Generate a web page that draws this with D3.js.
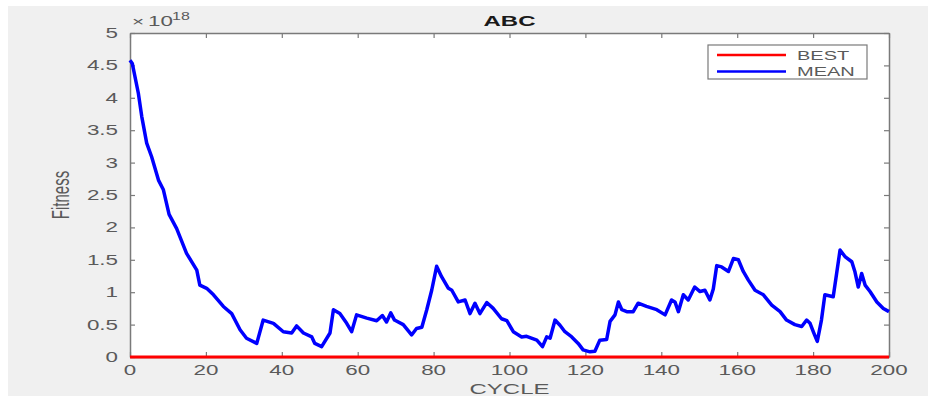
<!DOCTYPE html>
<html>
<head>
<meta charset="utf-8">
<script src="https://cdn.jsdelivr.net/npm/d3@7"></script>
<style>
  body { margin: 0; background: #fff; }
  svg text { font-family: "Liberation Sans", Arial, sans-serif; }
</style>
</head>
<body>
<svg id="chart" width="928" height="396"></svg>
<script>
// cycle positions of the MEAN curve vertices
const cycles = [0, 0.6, 2.2, 3.1, 4.4, 5.7, 7.5, 8.8, 10.3, 12.3, 14.9, 17.6, 18.4, 20.2, 22, 24.6, 26.8, 29, 30.7, 33.4,
  35.1, 37.8, 40.4, 42.6, 43.9, 45.7, 47.9, 48.7, 50.5, 52.7, 53.6, 55.3, 57.1, 58.4, 59.7, 62.4, 65, 66.5, 67.6, 68.7,
  69.7, 72, 74.2, 75.5, 76.9, 78.2, 79.5, 80.8, 82.1, 83.9, 84.8, 86.5, 88.3, 89.6, 90.9, 92.2, 94, 95.7, 97.9, 99.3,
  101, 103.2, 104.5, 107.2, 108.7, 109.8, 110.7, 112, 113.3, 114.6, 116.4, 118.1, 119.4, 121.2, 122.5, 123.8, 125.6, 126.5, 127.8, 128.7,
  129.6, 130.9, 132.6, 133.9, 136.1, 138.8, 141, 142.7, 143.6, 144.5, 145.8, 147.1, 148.8, 150.2, 151.5, 152.8, 153.7, 154.6, 155.9, 157.7,
  159, 160.3, 161.6, 162.9, 164.7, 166.9, 169.1, 171.3, 173, 175.2, 177, 178.3, 179.2, 180.2, 181.1, 182.2, 183.1, 185.3, 186.2, 187.1,
  188.4, 190.2, 191, 191.9, 192.8, 193.7, 195, 196.8, 198.5, 200];
// MEAN fitness (x 1e18)
const meanFitness = [4.58, 4.53, 4.07, 3.71, 3.30, 3.09, 2.73, 2.58, 2.20, 1.98, 1.60, 1.34, 1.11, 1.06, 0.96, 0.78, 0.67, 0.42, 0.29, 0.21,
  0.57, 0.52, 0.39, 0.37, 0.48, 0.37, 0.31, 0.21, 0.16, 0.37, 0.73, 0.67, 0.52, 0.39, 0.65, 0.60, 0.56, 0.64, 0.54, 0.68,
  0.57, 0.50, 0.34, 0.44, 0.46, 0.73, 1.03, 1.40, 1.24, 1.06, 1.03, 0.85, 0.88, 0.67, 0.83, 0.67, 0.84, 0.75, 0.59, 0.56,
  0.39, 0.31, 0.32, 0.26, 0.16, 0.31, 0.29, 0.57, 0.49, 0.39, 0.31, 0.21, 0.11, 0.08, 0.09, 0.26, 0.27, 0.55, 0.65, 0.85,
  0.73, 0.70, 0.70, 0.83, 0.78, 0.73, 0.65, 0.88, 0.85, 0.70, 0.96, 0.88, 1.08, 1.01, 1.03, 0.88, 1.05, 1.41, 1.39, 1.32,
  1.52, 1.50, 1.32, 1.19, 1.03, 0.96, 0.80, 0.70, 0.57, 0.50, 0.47, 0.57, 0.52, 0.37, 0.24, 0.57, 0.96, 0.93, 1.29, 1.65,
  1.55, 1.47, 1.32, 1.08, 1.29, 1.11, 1.01, 0.85, 0.75, 0.70];
// BEST fitness stays at zero the whole run
const bestCycles = [0, 200];
const bestFitness = [0, 0];

const xTicks = [0, 20, 40, 60, 80, 100, 120, 140, 160, 180, 200];
const yTicks = [0, 0.5, 1, 1.5, 2, 2.5, 3, 3.5, 4, 4.5, 5];
const seriesNames = ["BEST", "MEAN"];
const seriesColors = ["#ff0000", "#0000ff"];
const title = "ABC";
const xLabel = "CYCLE";
const yLabel = "Fitness";
const exponent = "18";

const plotLeft = 130, plotRight = 889, plotTop = 33, plotBottom = 357;
const stretchX = 1.6;   // the picture is stretched sideways, text included
const axisColor = "#7a7a7a";
const labelColor = "#5a5a5a";

const svg = d3.select("#chart");

// figure background
svg.append("rect")
    .attr("x", 8).attr("y", 6)
    .attr("width", 920).attr("height", 390)
    .attr("fill", "#f0f0f0");

const x = d3.scaleLinear().domain([0, 200]).range([plotLeft, plotRight]);
const y = d3.scaleLinear().domain([0, 5]).range([plotBottom, plotTop]);

// plot area
svg.append("rect")
    .attr("x", plotLeft).attr("y", plotTop)
    .attr("width", plotRight - plotLeft).attr("height", plotBottom - plotTop)
    .attr("fill", "#fff");

function stretchText(px, py, str, opts) {
    const g = svg.append("g")
        .attr("transform", `translate(${px},${py}) scale(${stretchX},1)` + (opts.rotate ? ` rotate(${opts.rotate})` : ""));
    return g.append("text")
        .attr("text-anchor", opts.anchor || "start")
        .attr("font-size", opts.size)
        .attr("font-weight", opts.weight || "normal")
        .attr("fill", opts.color || labelColor)
        .text(str);
}

// axes: MATLAB style, ticks pointing inwards on all four sides
const tickLen = 5;
const xAxis = svg.append("g")
    .attr("transform", `translate(0,${plotBottom})`)
    .call(d3.axisBottom(x).tickValues(xTicks).tickSizeInner(-tickLen).tickSizeOuter(0).tickFormat(""));
const xAxisTop = svg.append("g")
    .attr("transform", `translate(0,${plotTop})`)
    .call(d3.axisTop(x).tickValues(xTicks).tickSizeInner(-tickLen).tickSizeOuter(0).tickFormat(""));
const yAxis = svg.append("g")
    .attr("transform", `translate(${plotLeft},0)`)
    .call(d3.axisLeft(y).tickValues(yTicks).tickSizeInner(-tickLen).tickSizeOuter(0).tickFormat(""));
const yAxisRight = svg.append("g")
    .attr("transform", `translate(${plotRight},0)`)
    .call(d3.axisRight(y).tickValues(yTicks).tickSizeInner(-tickLen).tickSizeOuter(0).tickFormat(""));

[xAxis, xAxisTop, yAxis, yAxisRight].forEach(a => {
    a.select(".domain").attr("stroke", axisColor).attr("stroke-width", 1.5);
    a.selectAll(".tick line").attr("stroke", axisColor).attr("stroke-width", 1.2);
});

// tick labels
xTicks.forEach(t => stretchText(x(t), 375, String(t), {anchor: "middle", size: 14}));
yTicks.forEach(t => stretchText(plotLeft - 12, y(t) + 5, String(t), {anchor: "end", size: 14}));

// series
const line = d3.line()
    .x(d => x(d[0]))
    .y(d => y(d[1]));

svg.append("path")
    .datum(cycles.map((c, i) => [c, meanFitness[i]]))
    .attr("d", line)
    .attr("fill", "none")
    .attr("stroke", seriesColors[1])
    .attr("stroke-width", 3.5)
    .attr("stroke-linejoin", "round");

svg.append("path")
    .datum(bestCycles.map((c, i) => [c, bestFitness[i]]))
    .attr("d", line)
    .attr("fill", "none")
    .attr("stroke", seriesColors[0])
    .attr("stroke-width", 3);

// exponent label
stretchText(plotLeft + 2, 26, "\u00d7", {size: 13});
stretchText(plotLeft + 18, 26, "10", {size: 14});
stretchText(plotLeft + 42, 20, exponent, {size: 10});

// title and axis labels
stretchText((plotLeft + plotRight) / 2, 26, title, {anchor: "middle", size: 15, weight: "bold", color: "#1a1a1a"});
stretchText((plotLeft + plotRight) / 2, 394, xLabel, {anchor: "middle", size: 15});
stretchText(69, (plotTop + plotBottom) / 2, yLabel, {anchor: "middle", size: 15, rotate: -90});

// legend
const legend = svg.append("g");
legend.append("rect")
    .attr("x", 708).attr("y", 45)
    .attr("width", 159).attr("height", 34)
    .attr("fill", "#fff")
    .attr("stroke", axisColor)
    .attr("stroke-width", 1.2);
seriesNames.forEach((name, i) => {
    const ly = 55 + i * 16.5;
    legend.append("line")
        .attr("x1", 717).attr("x2", 786)
        .attr("y1", ly).attr("y2", ly)
        .attr("stroke", seriesColors[i])
        .attr("stroke-width", 2.5);
    stretchText(797, ly + 4.5, name, {size: 12.5});
});
</script>
</body>
</html>
